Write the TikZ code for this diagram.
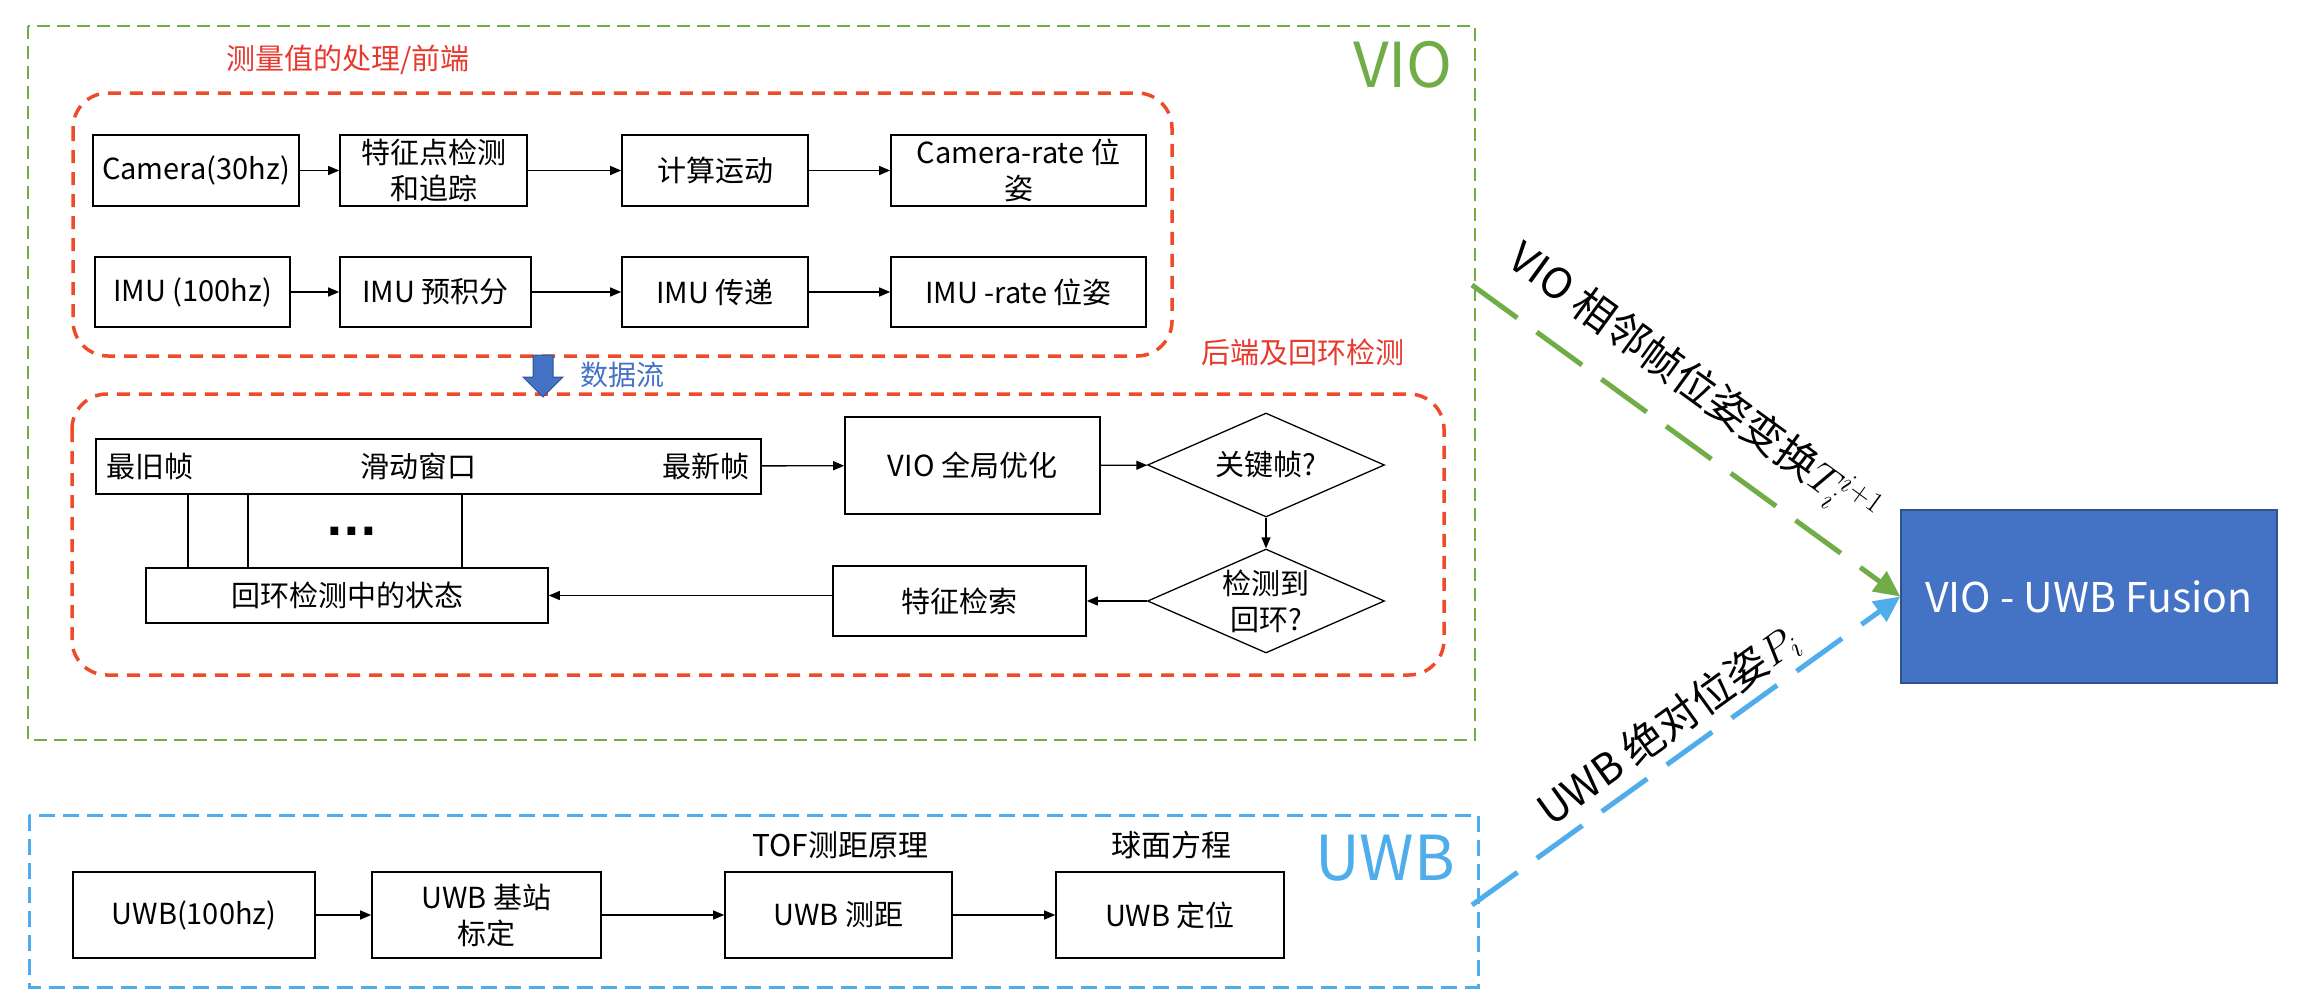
\RequirePackage{fix-cm}
\documentclass[tikz,border=0pt]{standalone}
\usepackage{fontspec}
\setmainfont{Noto Sans CJK SC}
\newfontfamily\dejavu{DejaVu Sans}
\usetikzlibrary{shapes.geometric,arrows.meta,calc}
\definecolor{vgreen}{HTML}{70AD47}
\definecolor{fred}{HTML}{EE4B2B}
\definecolor{tred}{HTML}{E8392F}
\definecolor{ublue}{HTML}{4EADEA}
\definecolor{dblue}{HTML}{4472C4}
\definecolor{dbord}{HTML}{2F528F}
\begin{document}
\begin{tikzpicture}[x=1pt,y=-1pt,
  box/.style={draw, line width=1.6pt, inner sep=2pt, align=center, font=\fontsize{29}{36}\selectfont},
  txt/.style={inner sep=0pt, font=\fontsize{29}{36}\selectfont},
  arr/.style={-{Triangle[length=11pt,width=9pt]}, line width=1.3pt},
  dia/.style={draw, diamond, line width=1.3pt, minimum width=237pt, minimum height=104pt, inner sep=0pt, aspect=2.28},
  difont/.style={font=\fontsize{29}{36}\selectfont, align=center},
  redframe/.style={draw=fred, line width=3.5pt, dash pattern=on 13pt off 9pt, rounded corners=35pt},
  redlabel/.style={text=tred, font=\fontsize{29}{36}\selectfont},
  biglabel/.style={font=\fontsize{62}{70}\selectfont},
  bigarrow/.style={line width=5pt, dash pattern=on 56pt off 24pt, -{Triangle[length=26pt,width=24pt]}},
  arrlabel/.style={sloped, font=\fontsize{42}{50}\selectfont}
]
\useasboundingbox (0,0) rectangle (2308,1004);

% frames
\draw[vgreen, line width=2pt, dash pattern=on 13pt off 7pt] (28,26) rectangle (1475,740);
\draw[ublue, line width=3pt, dash pattern=on 16pt off 8pt] (29,815) rectangle (1478,987);
\draw[redframe] (73,93) rectangle (1172,356);
\draw[redframe] (72,394) rectangle (1444,675);

\node[biglabel, text=vgreen] (viol) at (1403,65) {VIO};
\node[biglabel, text=ublue] (uwbl) at (1385,858) {UWB};
\node[redlabel] (fel) at (348,60) {测量值的处理/前端};
\node[redlabel] (bel) at (1303,352) {后端及回环检测};

% front end
\node[box, minimum width=206pt, minimum height=71pt] (cam) at (196,170.5) {Camera(30hz)};
\node[box, minimum width=187pt, minimum height=71pt] (feat) at (433.5,170.5) {特征点检测\\和追踪};
\node[box, minimum width=186pt, minimum height=71pt] (mot) at (715,170.5) {计算运动};
\node[box, minimum width=255pt, minimum height=71pt] (crate) at (1018.5,170.5) {Camera-rate 位\\姿};
\node[box, minimum width=195pt, minimum height=70pt] (imu) at (192.5,292) {IMU (100hz)};
\node[box, minimum width=191pt, minimum height=70pt] (pre) at (435.5,292) {IMU 预积分};
\node[box, minimum width=186pt, minimum height=70pt] (prop) at (715,292) {IMU 传递};
\node[box, minimum width=255pt, minimum height=70pt] (irate) at (1018.5,292) {IMU -rate 位姿};
\draw[arr] (cam) -- (feat);
\draw[arr] (feat) -- (mot);
\draw[arr] (mot) -- (crate);
\draw[arr] (imu) -- (pre);
\draw[arr] (pre) -- (prop);
\draw[arr] (prop) -- (irate);

% data flow arrow
\coordinate (df) at (543,355);
\filldraw[fill=dblue, draw=dbord, line width=1pt] ($(df)+(-10,0)$) -- ($(df)+(10,0)$) -- ($(df)+(10,22)$) -- ($(df)+(20,22)$) -- ($(df)+(0,42)$) -- ($(df)+(-20,22)$) -- ($(df)+(-10,22)$) -- cycle;
\node[text=dblue, font=\fontsize{28}{34}\selectfont] (dfl) at (622,375) {数据流};

% back end
\node[box, minimum width=665pt, minimum height=55pt] (win) at (428.5,466.5) {};
\node[txt, anchor=west] (oldf) at ($(win.west)+(11,0)$) {最旧帧};
\node[txt] (swin) at ($(win.center)+(-10,0)$) {滑动窗口};
\node[txt, anchor=east] (newf) at ($(win.east)+(-12,0)$) {最新帧};
\node[box, minimum width=255pt, minimum height=97pt] (opt) at (972.5,465.5) {VIO 全局优化};
\node[dia, label={[difont]center:关键帧?}] (kf) at (1266,465) {};
\node[dia, label={[difont]center:检测到\\回环?}] (lp) at (1266,601) {};
\node[box, minimum width=253pt, minimum height=70pt] (fs) at (959.5,601) {特征检索};
\node[box, minimum width=402pt, minimum height=55pt] (st) at (347,595.5) {回环检测中的状态};
\node[font=\fontsize{44}{50}\selectfont\dejavu\bfseries, anchor=base, inner sep=0pt] (dots) at (352,535) {...};
\draw[line width=1.3pt] (win.south -| 188,0) -- (st.north -| 188,0);
\draw[line width=1.3pt] (win.south -| 248,0) -- (st.north -| 248,0);
\draw[line width=1.3pt] (win.south -| 462,0) -- (st.north -| 462,0);
\draw[arr] (win) -- (opt);
\draw[arr] (opt) -- (kf);
\draw[arr] (kf) -- (lp);
\draw[arr] (lp) -- (fs);
\draw[arr] (st.east -| fs.west) -- (st.east);

% UWB
\node[box, minimum width=242pt, minimum height=86pt] (u1) at (194,915) {UWB(100hz)};
\node[box, minimum width=229pt, minimum height=86pt] (u2) at (486.5,915) {UWB 基站\\标定};
\node[box, minimum width=227pt, minimum height=86pt] (u3) at (838.5,915) {UWB 测距};
\node[box, minimum width=228pt, minimum height=86pt] (u4) at (1170,915) {UWB 定位};
\node[txt, font=\fontsize{30}{36}\selectfont] (tof) at (840,845) {TOF测距原理};
\node[txt, font=\fontsize{30}{36}\selectfont] (sph) at (1171,845) {球面方程};
\draw[arr] (u1) -- (u2);
\draw[arr] (u2) -- (u3);
\draw[arr] (u3) -- (u4);

% fusion
\node[fill=dblue, draw=dbord, line width=1.5pt, minimum width=376pt, minimum height=173pt, text=white, font=\fontsize{41}{50}\selectfont] (fus) at (2089,596.5) {VIO - UWB Fusion};
\coordinate (gs) at (1472,285);
\coordinate (bs) at (1472,905);
\draw[bigarrow, vgreen] (gs) -- node[arrlabel, above=20pt, pos=0.45, text=black] {VIO 相邻帧位姿变换$T_i^{i+1}$} (fus.west);
\draw[bigarrow, ublue] (bs) -- node[arrlabel, above=4pt, pos=0.5, text=black] {UWB 绝对位姿$P_i$} (fus.west);
\end{tikzpicture}
\end{document}
